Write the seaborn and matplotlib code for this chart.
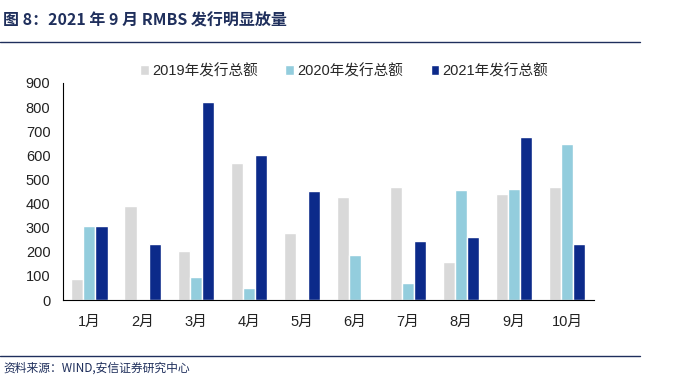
import numpy as np
import pandas as pd
import matplotlib
matplotlib.use("Agg")
import matplotlib.pyplot as plt
import seaborn as sns

months = ["1月", "2月", "3月", "4月", "5月", "6月", "7月", "8月", "9月", "10月"]
series_names = ["2019年发行总额", "2020年发行总额", "2021年发行总额"]
v2019 = [86, 388, 202, 568, 278, 429, 467, 159, 438, 467]
v2020 = [307, 0, 94, 48, 0, 187, 71, 457, 461, 648]
v2021 = [309, 231, 820, 600, 454, 0, 244, 263, 676, 231]
colors = ["#d9d9d9", "#93cddd", "#0c2a8a"]

sns.set_theme(style="white")
plt.rcParams["font.family"] = ["Liberation Sans", "Noto Sans CJK SC", "DejaVu Sans"]

df = pd.DataFrame({
    "month": months * 3,
    "series": np.repeat(series_names, len(months)),
    "value": v2019 + v2020 + v2021,
})

fig = plt.figure(figsize=(6.84, 3.80), dpi=100)
ax = fig.add_axes([0.092, 0.2105, 0.776, 0.5711])

sns.barplot(data=df, x="month", y="value", hue="series", palette=colors,
            width=0.68, saturation=1, ax=ax, legend=True)

ax.set_ylim(0, 900)
ax.set_yticks(range(0, 901, 100))
ax.set_xlim(-0.5, len(months) - 0.5)
ax.set_xlabel("")
ax.set_ylabel("")
for s in ["top", "right"]:
    ax.spines[s].set_visible(False)
for s in ["left", "bottom"]:
    ax.spines[s].set_color("black")
    ax.spines[s].set_linewidth(0.8)
ax.tick_params(axis="y", direction="in", length=4, width=0.8, labelsize=10.5, colors="black", pad=9)
ax.tick_params(axis="x", length=0, labelsize=10.5, pad=11)
for lab in ax.get_yticklabels() + ax.get_xticklabels():
    lab.set_color("#222222")
# category separators on x axis
ax.set_xticks(np.arange(0.5, len(months) - 0.5), minor=True)
ax.tick_params(axis="x", which="minor", direction="in", length=4, width=0.8, color="black")

leg = ax.legend(loc="center", bbox_to_anchor=(0.53, 1.055), ncol=3, frameon=False,
                fontsize=10.5, handlelength=0.6, handleheight=0.6, handletextpad=0.2,
                columnspacing=1.9, borderaxespad=0.0)

# title and source with rules
fig.text(0.005, 0.945, "图 8：2021 年 9 月 RMBS 发行明显放量", fontsize=11.5, fontweight="bold",
         color="#1f2f5c", ha="left", va="center", family=["Noto Sans CJK SC", "DejaVu Sans"])
fig.add_artist(plt.Line2D([0, 0.935], [0.89, 0.89], color="#1f2f5c", lw=1.0))
fig.add_artist(plt.Line2D([0, 0.935], [0.062, 0.062], color="#1f2f5c", lw=1.0))
fig.text(0.005, 0.03, "资料来源：WIND,安信证券研究中心", fontsize=8.5, fontstyle="italic",
         color="#1f2f5c", ha="left", va="center", family=["Noto Sans CJK SC", "DejaVu Sans"])

fig.savefig("out.png", dpi=100)
